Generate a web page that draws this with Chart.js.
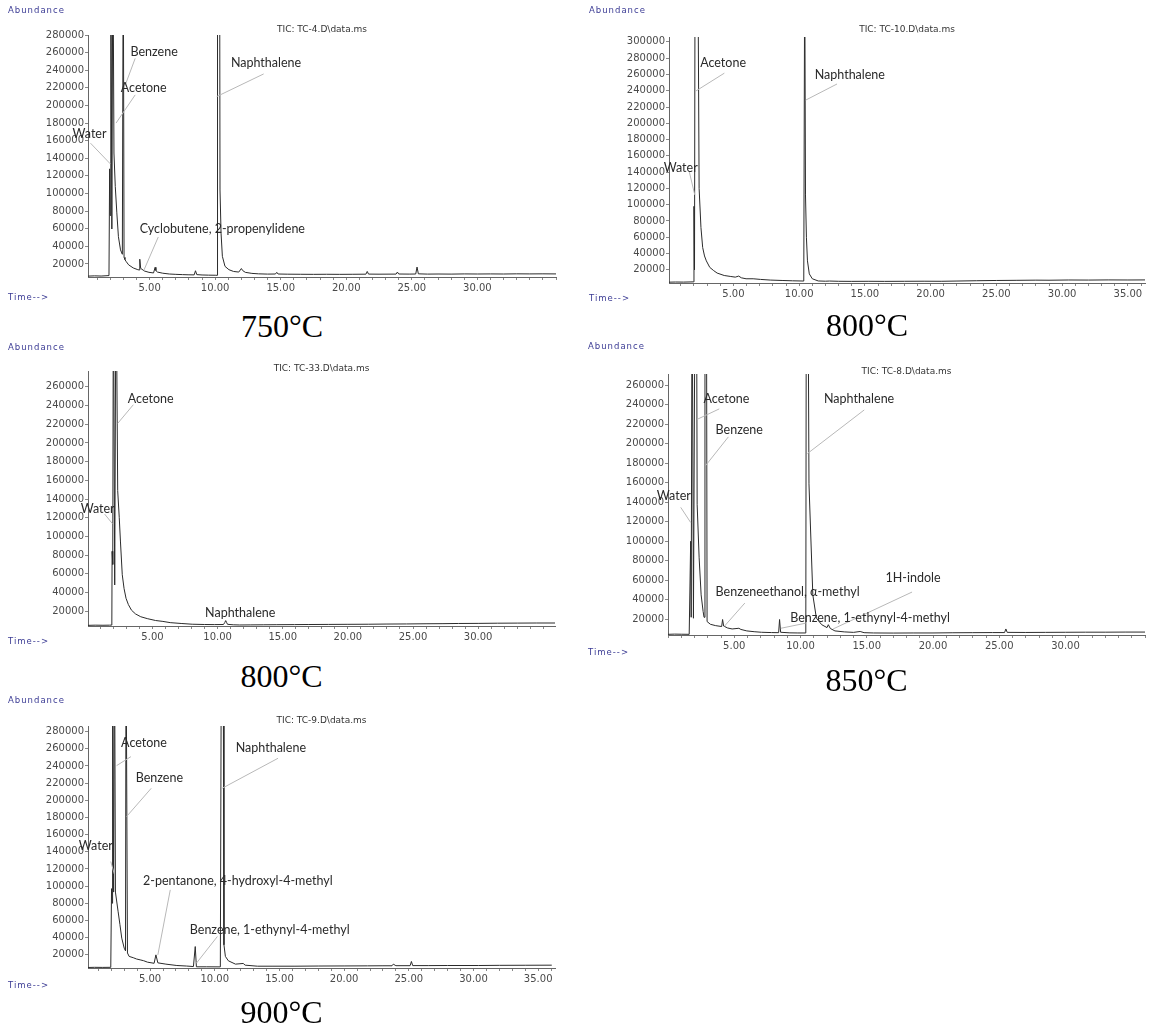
<!DOCTYPE html>
<html>
<head>
<meta charset="utf-8">
<script src="https://cdn.jsdelivr.net/npm/chart.js@4/dist/chart.umd.min.js"></script>
<style>
  html, body { margin: 0; padding: 0; background: #fff; }
  #page { position: relative; width: 1149px; height: 1027px; overflow: hidden; }
  canvas { position: absolute; }
  .small { position: absolute; font-family: "DejaVu Sans", sans-serif; font-size: 8.5px; letter-spacing: 1px; color: #3b3b94; transform: translateY(-50%); white-space: nowrap; }
  .caption { position: absolute; font-family: "Liberation Serif", "Times New Roman", serif; font-size: 32px; color: #000; transform: translate(-50%, -50%); white-space: nowrap; }
</style>
</head>
<body>
<div id="page"></div>
<script>
"use strict";

// retention time (min) and abundance
const t750 = [0.3,0.8,1.3,1.9,1.95,1.99,2.04,2.12,2.2,2.28,2.38,2.5,2.62,2.78,2.92,2.99,3.05,3.12,3.2,3.4,3.75,4.1,4.2,4.25,4.32,4.6,4.95,5.3,5.42,5.48,5.6,6.0,6.5,7.0,7.5,8.0,8.4,8.5,8.6,9.0,9.5,10.0,10.15,10.18,10.34,10.37,10.45,10.55,10.75,11.05,11.4,11.8,12.0,12.1,12.3,12.8,13.3,14.0,14.6,14.7,14.8,15.5,16.5,17.5,18.5,19.5,20.5,21.5,21.6,21.7,22.5,23.8,23.9,24.0,24.8,25.3,25.4,25.5,26.2,27.0,28.0,29.0,30.0,31.0,32.0,33.0,34.0,35.0,36.0];
const a750 = [6200,6500,6300,6800,128000,75000,400000,59700,400000,146000,108000,78000,51000,36000,31000,400000,27500,25000,23000,19000,15500,13500,13200,25400,15000,12000,10500,9800,16200,12500,10800,9500,8600,8200,7900,7700,7600,12300,7900,7500,7300,7200,7100,400000,400000,104000,55000,28700,17300,13500,11500,10800,14800,12500,10500,9300,8800,8500,8600,10500,8600,8400,8300,8200,8300,8200,8300,8400,11500,8500,8400,8500,10800,8600,8500,8600,16500,8800,8500,8600,8500,8700,8600,8700,8600,8800,8700,8800,8700];

const t800a = [0.1,0.6,1.2,1.7,1.97,2.0,2.04,2.08,2.3,2.39,2.53,2.66,2.8,2.94,3.2,3.5,3.76,4.3,4.8,5.14,5.4,5.6,5.96,6.5,7.06,7.8,8.7,9.5,10.35,10.42,10.48,10.55,10.63,10.77,11.0,11.45,12.0,12.3,13.0,14.0,15.3,16.5,18.0,19.5,20.8,22.0,23.5,25.0,26.5,28.0,29.0,30.5,32.0,33.5,35.0,36.3];
const a800a = [4800,5000,4900,5100,5200,98000,20000,400000,400000,120000,72000,47500,37000,31000,23000,19000,16000,13000,11800,11000,12300,10200,9000,9000,8200,7400,6900,6500,6200,400000,112000,60000,31000,15000,9000,6300,6000,6200,5900,5800,5900,5800,5900,6000,5900,6200,6600,6900,7100,7300,7200,7500,7400,7600,7500,7600];

const t800b = [0.05,0.6,1.2,1.7,1.88,1.9,1.95,2.0,2.1,2.2,2.33,2.45,2.54,2.68,2.82,2.97,3.15,3.39,3.7,4.1,4.6,5.23,5.8,6.36,7.2,8.05,9.0,9.75,10.45,10.55,10.62,10.7,10.76,11.2,11.7,12.5,13.5,14.5,15.9,17.0,18.5,20.0,21.6,23.0,24.5,26.0,27.3,28.5,30.0,31.5,33.0,34.5,35.9];
const a800b = [4800,5000,4900,5000,5100,84000,70000,400000,48000,400000,149000,120000,95000,59000,44000,33700,27000,21000,17000,14000,12000,10000,9000,7700,6800,6000,5700,5600,5700,7800,9900,7600,5900,5400,5200,5300,5400,5500,5600,5700,5800,5900,6000,6200,6300,6500,6600,6800,6900,7100,7200,7300,7300];

const t850 = [0,0.5,1.0,1.6,1.71,1.75,1.82,1.92,2.05,2.15,2.2,2.35,2.5,2.65,2.72,2.79,2.9,2.95,3.2,3.6,4.05,4.12,4.2,4.5,4.84,5.35,5.5,5.95,6.5,7.06,7.8,8.35,8.42,8.5,9.2,9.8,10.4,10.44,10.56,10.64,10.93,11.2,11.6,12.0,12.1,12.25,12.6,13.3,14.0,14.5,14.8,15.5,17.0,18.5,20.0,21.5,23.0,24.5,25.4,25.5,25.6,27.0,28.5,30.0,31.5,33.0,34.5,36.0];
const a850 = [4500,4700,4600,4500,100000,22000,400000,21000,400000,400000,138000,83000,45000,28000,22000,400000,400000,17600,14800,13400,12500,19700,13000,11000,10000,10700,9500,8000,7200,6600,6300,6200,19700,6600,6000,5900,5900,400000,400000,159000,45000,21000,14400,11400,14400,10500,8000,7000,6500,7400,6200,5900,5800,5900,5900,6100,6200,6300,6300,10000,6500,6400,6500,6600,6700,6700,6800,6800];

const t900 = [0.2,0.7,1.3,1.96,2.02,2.06,2.1,2.18,2.25,2.32,2.53,2.67,2.81,3.0,3.1,3.14,3.2,3.25,3.38,3.7,3.95,4.23,4.5,4.8,5.31,5.45,5.6,6.22,7.07,7.8,8.35,8.49,8.58,9.35,10.43,10.51,10.65,10.71,10.82,11.05,11.6,12.2,12.35,13.3,14.5,16.2,18.0,20.0,21.8,23.0,23.7,23.8,24.0,25.1,25.2,25.3,26.5,28.0,30.4,32.0,34.0,36.05];
const a900 = [5100,5300,5200,5300,97000,80000,400000,93000,400000,93000,70000,55000,39300,27600,24500,400000,400000,22000,18000,16500,15000,14000,13000,11300,10000,19800,10500,9000,7400,6800,6200,29500,5900,5900,5800,400000,400000,31500,18000,12900,9000,9800,7800,6600,6600,6600,6800,6900,7000,7100,7100,9000,7200,7200,12100,7300,7300,7400,7400,7600,7700,7800];

// tick labels
const xLabels30 = [5, 10, 15, 20, 25, 30];
const xLabels35 = [5, 10, 15, 20, 25, 30, 35];
const yTicks260 = [20000,40000,60000,80000,100000,120000,140000,160000,180000,200000,220000,240000,260000];
const yTicks280 = yTicks260.concat([280000]);
const yTicks300 = yTicks280.concat([300000]);

// peak labels: text position and leader line, in data units
const notes750 = [
  { text: "Benzene", x: 3.54, y: 261000, from: [3.9, 253500], to: [3.05, 219500] },
  { text: "Acetone", x: 2.8, y: 219500, from: [3.9, 212000], to: [2.44, 180000] },
  { text: "Water", x: -0.88, y: 167800, from: [0.49, 157200], to: [2.0, 133700] },
  { text: "Naphthalene", x: 11.2, y: 247900, from: [13.7, 235800], to: [10.12, 210100] },
  { text: "Cyclobutene, 2-propenylidene", x: 4.24, y: 59700, from: [5.66, 50600], to: [4.56, 12800] },
];
const notes800a = [
  { text: "Acetone", x: 2.47, y: 273700, from: [4.31, 261600], to: [2.12, 239400] },
  { text: "Naphthalene", x: 11.18, y: 259600, from: [12.88, 248300], to: [10.5, 228500] },
  { text: "Water", x: -0.3, y: 145700, from: [1.65, 140000], to: [2.06, 112000] },
];
const notes800b = [
  { text: "Acetone", x: 3.1, y: 247000, from: [3.53, 240900], to: [2.34, 221100] },
  { text: "Water", x: -0.51, y: 129200, from: [1.33, 123800], to: [1.92, 113700] },
  { text: "Naphthalene", x: 9.04, y: 18200 },
];
const notes850 = [
  { text: "Acetone", x: 2.68, y: 246200, from: [3.87, 235900], to: [2.21, 225200] },
  { text: "Benzene", x: 3.59, y: 214100, from: [4.56, 207200], to: [2.85, 177900] },
  { text: "Naphthalene", x: 11.77, y: 246200, from: [14.81, 234800], to: [10.52, 190000] },
  { text: "Water", x: -0.84, y: 146900, from: [0.96, 134800], to: [1.71, 119300] },
  { text: "Benzeneethanol, α-methyl", x: 3.59, y: 47900, from: [5.8, 36600], to: [4.23, 12400] },
  { text: "1H-indole", x: 16.42, y: 62400, from: [18.42, 47900], to: [12.46, 10000] },
  { text: "Benzene, 1-ethynyl-4-methyl", x: 9.22, y: 21100, from: [10.38, 15900], to: [8.52, 10700] },
];
const notes900 = [
  { text: "Acetone", x: 2.76, y: 266400, from: [3.52, 250900], to: [2.41, 240400] },
  { text: "Benzene", x: 3.89, y: 226000, from: [5.09, 214000], to: [3.18, 181000] },
  { text: "Naphthalene", x: 11.62, y: 260600, from: [14.89, 249000], to: [10.57, 214000] },
  { text: "Water", x: -0.51, y: 147200, from: [1.96, 128600], to: [2.24, 113800] },
  { text: "2-pentanone, 4-hydroxyl-4-methyl", x: 4.46, y: 106000, from: [6.56, 95600], to: [5.6, 19800] },
  { text: "Benzene, 1-ethynyl-4-methyl", x: 8.07, y: 49000, from: [10.2, 41200], to: [8.58, 10100] },
];

const panels = [
  { times: t750, abund: a750, notes: notes750, xLabels: xLabels30, yTicks: yTicks280,
    box: { l: 88, t: 35, r: 556, b: 277 }, xMin: 0.3, xMax: 36.0, yMin: 5200, yMax: 280000,
    tic: "TIC: TC-4.D\\data.ms", ticDy: 5, caption: "750°C", capY: 326, absY: 10, timeY: 297 },
  { times: t800a, abund: a800a, notes: notes800a, xLabels: xLabels35, yTicks: yTicks300,
    box: { l: 669, t: 37, r: 1145, b: 283 }, xMin: 0.1, xMax: 36.3, yMin: 3800, yMax: 306000,
    tic: "TIC: TC-10.D\\data.ms", ticDy: 7, caption: "800°C", capY: 325, absY: 10, timeY: 298 },
  { times: t800b, abund: a800b, notes: notes800b, xLabels: xLabels30, yTicks: yTicks260,
    box: { l: 88, t: 371, r: 555, b: 626 }, xMin: 0.05, xMax: 35.9, yMin: 4100, yMax: 277000,
    tic: "TIC: TC-33.D\\data.ms", ticDy: 2, caption: "800°C", capY: 676, absY: 347, timeY: 641 },
  { times: t850, abund: a850, notes: notes850, xLabels: xLabels30, yTicks: yTicks260,
    box: { l: 668, t: 374, r: 1145, b: 635 }, xMin: 0, xMax: 36.0, yMin: 3800, yMax: 271700,
    tic: "TIC: TC-8.D\\data.ms", ticDy: 2, caption: "850°C", capY: 680, absY: 346, timeY: 652 },
  { times: t900, abund: a900, notes: notes900, xLabels: xLabels35, yTicks: yTicks280,
    box: { l: 88, t: 726, r: 555, b: 968 }, xMin: 0.2, xMax: 36.3, yMin: 4500, yMax: 286600,
    tic: "TIC: TC-9.D\\data.ms", ticDy: 5, caption: "900°C", capY: 1012, absY: 700, timeY: 985 },
];

const PAD_LEFT = 88;
const PAD_TOP = 35;
const PAD_BOTTOM = 30;
const PAD_RIGHT = 4;

// leader lines, peak names and the TIC title
const notesPlugin = {
  id: "notes",
  afterDatasetsDraw(chart) {
    const p = chart.config.options.panel;
    const ctx = chart.ctx;
    const xs = chart.scales.x;
    const ys = chart.scales.y;
    const area = chart.chartArea;
    ctx.save();
    ctx.strokeStyle = "#b8b8b8";
    ctx.lineWidth = 1;
    p.notes.forEach((n) => {
      if (!n.from) return;
      ctx.beginPath();
      ctx.moveTo(xs.getPixelForValue(n.from[0]), ys.getPixelForValue(n.from[1]));
      ctx.lineTo(xs.getPixelForValue(n.to[0]), ys.getPixelForValue(n.to[1]));
      ctx.stroke();
    });
    ctx.fillStyle = "#2a2a2a";
    ctx.font = "12.5px Lato, 'Open Sans', sans-serif";
    ctx.textBaseline = "middle";
    ctx.textAlign = "left";
    p.notes.forEach((n) => {
      ctx.fillText(n.text, xs.getPixelForValue(n.x), ys.getPixelForValue(n.y));
    });
    ctx.font = "9px 'DejaVu Sans', sans-serif";
    ctx.fillStyle = "#333";
    ctx.textAlign = "center";
    ctx.fillText(p.tic, (area.left + area.right) / 2, area.top - p.ticDy);
    ctx.restore();
  },
};

function addText(cls, text, x, y) {
  const div = document.createElement("div");
  div.className = cls;
  div.textContent = text;
  div.style.left = x + "px";
  div.style.top = y + "px";
  document.getElementById("page").appendChild(div);
}

function makePanel(p) {
  const page = document.getElementById("page");
  const canvas = document.createElement("canvas");
  const w = p.box.r - p.box.l + PAD_LEFT + PAD_RIGHT;
  const h = p.box.b - p.box.t + PAD_TOP + PAD_BOTTOM;
  canvas.width = w;
  canvas.height = h;
  canvas.style.width = w + "px";
  canvas.style.height = h + "px";
  canvas.style.left = (p.box.l - PAD_LEFT) + "px";
  canvas.style.top = (p.box.t - PAD_TOP) + "px";
  page.appendChild(canvas);

  const points = p.times.map((t, i) => ({ x: t, y: p.abund[i] }));
  const minuteTicks = [];
  for (let m = Math.ceil(p.xMin); m <= Math.floor(p.xMax); m++) {
    minuteTicks.push({ value: m });
  }
  const tickFont = { family: "'DejaVu Sans', sans-serif", size: 10 };

  new Chart(canvas.getContext("2d"), {
    type: "line",
    data: {
      datasets: [
        {
          data: points,
          borderColor: "#2b2b2b",
          borderWidth: 1,
          pointRadius: 0,
          tension: 0,
        },
      ],
    },
    options: {
      panel: p,
      responsive: false,
      animation: false,
      layout: { padding: { left: 0, top: PAD_TOP, right: PAD_RIGHT, bottom: 0 } },
      plugins: {
        legend: { display: false },
        tooltip: { enabled: false },
      },
      scales: {
        x: {
          type: "linear",
          min: p.xMin,
          max: p.xMax,
          afterBuildTicks: (scale) => {
            scale.ticks = minuteTicks;
          },
          afterFit: (scale) => {
            scale.height = PAD_BOTTOM;
          },
          border: { display: true, color: "#666", width: 1 },
          grid: { drawOnChartArea: false, drawTicks: true, tickLength: 3, color: "#888" },
          ticks: {
            autoSkip: false,
            maxRotation: 0,
            padding: 2,
            color: "#4a4a4a",
            font: tickFont,
            callback: (v) => (p.xLabels.includes(v) ? v.toFixed(2) : ""),
          },
        },
        y: {
          min: p.yMin,
          max: p.yMax,
          afterBuildTicks: (scale) => {
            scale.ticks = p.yTicks.filter((v) => v <= p.yMax).map((v) => ({ value: v }));
          },
          afterFit: (scale) => {
            scale.width = PAD_LEFT;
          },
          border: { display: true, color: "#666", width: 1 },
          grid: { drawOnChartArea: false, drawTicks: true, tickLength: 3, color: "#888" },
          ticks: {
            padding: 1,
            color: "#4a4a4a",
            font: tickFont,
            callback: (v) => String(v),
          },
        },
      },
    },
    plugins: [notesPlugin],
  });

  const left = p.box.l - PAD_LEFT + 8;
  addText("small", "Abundance", left, p.absY);
  addText("small", "Time-->", left, p.timeY);
  addText("caption", p.caption, (p.box.l + p.box.r) / 2 - 40, p.capY);
}

panels.forEach(makePanel);
</script>
</body>
</html>
